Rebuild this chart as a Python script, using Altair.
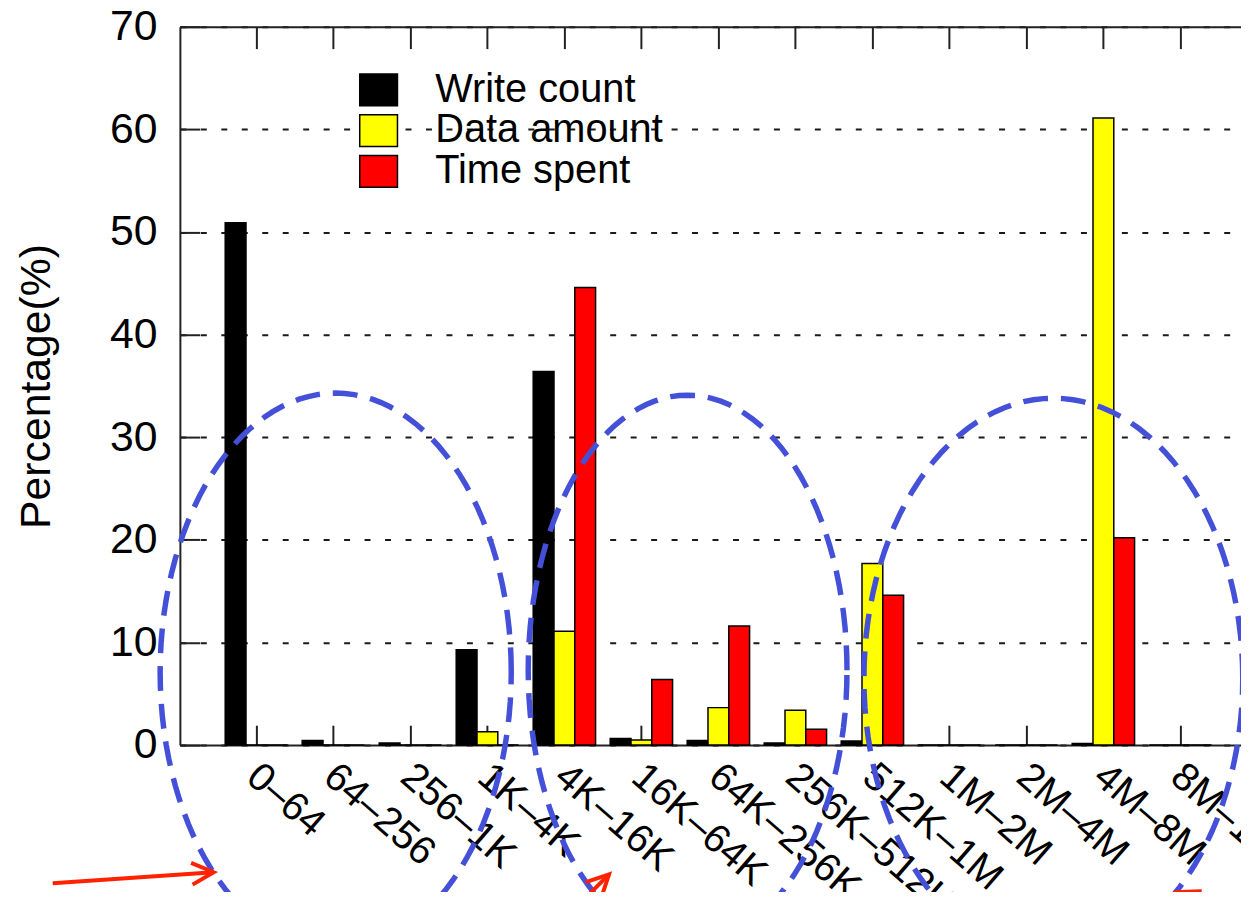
import math
import altair as alt
import pandas as pd

# ---------------- data ----------------
categories = ["0–64", "64–256", "256–1K", "1K–4K", "4K–16K", "16K–64K",
              "64K–256K", "256K–512K", "512K–1M", "1M–2M", "2M–4M", "4M–8M", "8M–16M"]
series = ["Write count", "Data amount", "Time spent"]
write_count = [50.9, 0.45, 0.2, 9.3, 36.4, 0.65, 0.45, 0.2, 0.4, 0.0, 0.0, 0.15, 0.0]
data_amount = [0.0, 0.0, 0.0, 1.3, 11.1, 0.5, 3.65, 3.4, 17.7, 0.0, 0.0, 61.1, 0.0]
time_spent = [0.0, 0.0, 0.0, 0.0, 44.6, 6.4, 11.6, 1.55, 14.6, 0.0, 0.0, 20.2, 0.0]
y_ticks = [0, 10, 20, 30, 40, 50, 60, 70]

# annotation ellipses (category-index units, percent units)
ell_cx = [1.03, 5.60, 10.35]
ell_cy = [7.1, 7.3, 6.5]
ell_a = [2.28, 2.07, 2.46]
ell_b = [27.2, 26.8, 27.3]

# annotation arrows: tail (x0, y0) -> tip (x1, y1)
arr_x0 = [-2.645, 4.09, 12.67]
arr_y0 = [-13.46, -16.27, -16.75]
arr_x1 = [-0.555, 4.58, 11.96]
arr_y1 = [-12.39, -12.59, -14.33]

# ---------------- styling / layout ----------------
FONT = "Liberation Sans"
COLORS = ["#000000", "#ffff00", "#ff0000"]
BLUE = "#4450d8"
RED = "#ff2200"
AXC = "#222222"

W, H = 1068, 723
PAD = {"left": 173, "top": 16, "right": 0, "bottom": 145}
STEP = 77.5          # px per category
C0 = 77.0            # px of first category centre from plot left
N = len(categories)
PI = 0.19
PO = (W / STEP - N + PI) / 2
ALIGN = (C0 - STEP * (1 - PI) / 2) / (W - STEP * (N - PI))
XD = [-C0 / STEP, (W - C0) / STEP]
YPX = H / 70.0

rows = []
for i, c in enumerate(categories):
    for s, vals in zip(series, [write_count, data_amount, time_spent]):
        rows.append({"category": c, "series": s, "value": vals[i]})
df = pd.DataFrame(rows)

ell_rows = []
for k in range(len(ell_cx)):
    for t in range(0, 361, 3):
        r = math.radians(t)
        ell_rows.append({"id": k, "t": t,
                         "x": ell_cx[k] + ell_a[k] * math.cos(r),
                         "y": ell_cy[k] + ell_b[k] * math.sin(r)})
ell_df = pd.DataFrame(ell_rows)

arr_rows = []
for k in range(len(arr_x0)):
    dx = (arr_x1[k] - arr_x0[k]) * STEP
    dy = -(arr_y1[k] - arr_y0[k]) * YPX
    ang = math.degrees(math.atan2(dy, dx)) % 360
    arr_rows.append({"x0": arr_x0[k], "y0": arr_y0[k], "x1": arr_x1[k],
                     "y1": arr_y1[k], "ang": ang})
arr_df = pd.DataFrame(arr_rows)

xband = alt.Scale(domain=categories, paddingInner=PI, paddingOuter=PO,
                  align=ALIGN, round=False)
xoff = alt.Scale(domain=series, paddingInner=0, paddingOuter=0)
yscale = alt.Scale(domain=[0, 70], nice=False)
xann = alt.Scale(domain=XD, nice=False, zero=False)

bars = alt.Chart(df).mark_bar(stroke="black", strokeWidth=1.5).encode(
    x=alt.X("category:N", sort=categories, scale=xband, axis=alt.Axis(
        orient="bottom", title=None, labelAngle=41, labelAlign="left",
        labelBaseline="alphabetic", labelPadding=35, labelOffset=-12,
        labelFontSize=40, labelColor="black", labelFont=FONT,
        labelOverlap=False, labelLimit=500,
        ticks=False, tickSize=0, domain=True, domainColor=AXC, domainWidth=2,
        grid=False)),
    xOffset=alt.XOffset("series:N", sort=series, scale=xoff),
    y=alt.Y("value:Q", scale=yscale, axis=alt.Axis(
        values=y_ticks, title="Percentage(%)", titleFontSize=43, titleFont=FONT,
        titleFontWeight="normal", titleColor="black", titleX=-131,
        titleY=H / 2, titleAngle=270, titleAlign="center",
        titleBaseline="alphabetic", labelFontSize=43, labelFont=FONT,
        labelPadding=23, labelColor="black", ticks=False, tickSize=0,
        domain=True, domainWidth=2, domainColor=AXC, grid=True,
        gridDash=[6, 14.6], gridColor="#1a1a1a", gridWidth=2)),
    color=alt.Color("series:N", sort=series,
                    scale=alt.Scale(domain=series, range=COLORS),
                    legend=alt.Legend(
                        title=None, orient="none", legendX=180, legendY=43.5,
                        direction="vertical",
                        symbolType="M-1,-0.842L1,-0.842L1,0.842L-1,0.842Z",
                        symbolSize=1444, symbolStrokeColor="black",
                        symbolStrokeWidth=1.5, symbolOpacity=1,
                        labelFontSize=40, labelFont=FONT, labelColor="black",
                        labelOffset=37, rowPadding=1, padding=0, labelLimit=500)),
)

inv = alt.Chart(df).mark_bar(opacity=0, strokeOpacity=0)

top_border = inv.encode(
    x=alt.X("category:N", sort=categories, scale=xband, axis=alt.Axis(
        orient="top", title=None, labels=False, ticks=False, domain=True,
        domainColor=AXC, domainWidth=2, grid=False)),
    y=alt.Y("value:Q", scale=yscale, axis=alt.Axis(
        orient="left", values=y_ticks, title=None, labels=False, ticks=True,
        tickSize=20, offset=-20, tickColor=AXC, tickWidth=2, domain=False,
        grid=False)),
)

bottom_ticks = inv.encode(
    x=alt.X("category:N", sort=categories, scale=xband, axis=alt.Axis(
        orient="bottom", title=None, labels=False, ticks=True, tickSize=20,
        offset=-20, tickColor=AXC, tickWidth=2, domain=False, grid=False)),
    y=alt.Y("value:Q", scale=yscale, axis=None),
)

top_ticks = inv.encode(
    x=alt.X("category:N", sort=categories, scale=xband, axis=alt.Axis(
        orient="top", title=None, labels=False, ticks=True, tickSize=22,
        offset=-22, tickColor=AXC, tickWidth=2, domain=False, grid=False)),
    y=alt.Y("value:Q", scale=yscale, axis=None),
)

ellipses = alt.Chart(ell_df).mark_line(
    color=BLUE, strokeWidth=5.5, strokeDash=[25, 13], clip=False
).encode(
    x=alt.X("x:Q", scale=xann, axis=None),
    y=alt.Y("y:Q", scale=yscale, axis=None),
    detail="id:N",
    order="t:Q",
)

shafts = alt.Chart(arr_df).mark_rule(color=RED, strokeWidth=4, clip=False).encode(
    x=alt.X("x0:Q", scale=xann, axis=None),
    x2="x1:Q",
    y=alt.Y("y0:Q", scale=yscale, axis=None),
    y2="y1:Q",
)

heads = alt.Chart(arr_df).mark_point(
    shape="M-1,-0.5L0,0L-1,0.5", size=1936, filled=False, stroke=RED,
    strokeWidth=4, opacity=1, clip=False
).encode(
    x=alt.X("x1:Q", scale=xann, axis=None),
    y=alt.Y("y1:Q", scale=yscale, axis=None),
    angle=alt.Angle("ang:Q", scale=None),
)

chart = alt.layer(
    bars, top_border, bottom_ticks, top_ticks, ellipses, shafts, heads
).resolve_scale(
    x="independent"
).resolve_axis(
    x="independent", y="independent"
).properties(
    width=W, height=H,
    autosize=alt.AutoSizeParams(type="none"),
    padding=PAD,
).configure_view(
    stroke="transparent"
).configure(
    font=FONT
)

chart.save("out.html", embed_options={"renderer": "svg", "actions": False})
